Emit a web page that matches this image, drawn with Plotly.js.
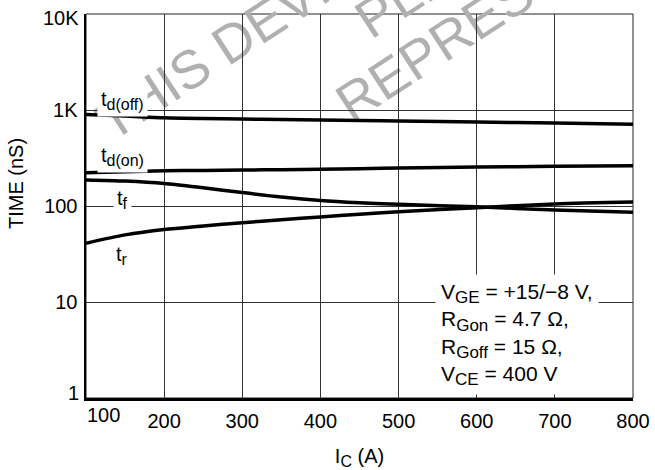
<!DOCTYPE html>
<html>
<head>
<meta charset="utf-8">
<script src="https://cdn.plot.ly/plotly-3.0.1.min.js"></script>
<style>html,body{margin:0;padding:0;background:#fff;}#chart{width:655px;height:470px;}</style>
</head>
<body>
<div id="chart"></div>
<script>
// ---- data ----
const currentA = [100, 150, 200, 250, 300, 350, 400, 450, 500, 600, 700, 800];
const tdOff    = [900, 866, 830, 815, 806, 796, 787, 777, 768, 750, 732, 710];
const tdOn     = [222, 228, 233, 235, 237, 239, 241, 245, 249, 255, 259, 263];
const tFall    = [187, 182, 172, 155, 138, 124, 114, 108, 104,  98,  91,  86];
const tRise    = [ 41,  50,  57,  62,  67,  72,  77,  82,  87,  96, 105, 110];
const seriesMain = ['t', 't', 't', 't'];
const seriesSub  = ['d(off)', 'd(on)', 'f', 'r'];
const xTickVals = [100, 200, 300, 400, 500, 600, 700, 800];
const xTickText = ['100', '200', '300', '400', '500', '600', '700', '800'];
const yTickVals = [1, 10, 100, 1000, 10000];
const yTickText = ['1', '10', '100', '1K', '10K'];
const condMain = ['V', 'R', 'R', 'V'];
const condSub  = ['GE', 'Gon', 'Goff', 'CE'];
const condRest = [' = +15/\u22128 V,', ' = 4.7 \u03A9,', ' = 15 \u03A9,', ' = 400 V'];
const watermark = ['THIS DEVICE', 'PLEASE', 'REPRESENTATIVE'];

// ---- geometry helpers (pixel -> paper) ----
const L = 86, R = 22, T = 14, B = 72, W = 655, H = 470;
const PW = W - L - R, PH = H - T - B;
const px = x => (x - L) / PW;
const py = y => (H - B - y) / PH;
const FONT = 'Liberation Sans, Arial, Helvetica, sans-serif';
const sub = (s, size) => '<sub><span style="font-size:' + size + 'px">' + s + '</span></sub>';

const ys = [tdOff, tdOn, tFall, tRise];
const traces = ys.map((y, i) => ({
  x: currentA, y: y, type: 'scatter', mode: 'lines', name: seriesMain[i] + seriesSub[i],
  line: {color: '#000', width: 3.5, shape: 'spline', smoothing: 0.8},
  hoverinfo: 'skip', showlegend: false
}));

// watermark via shape labels (below traces), anchored at text start
const wmPos = [[99, 122], [358, 20], [338.6, 103.6]];
const shapes = [{
  type: 'rect', xref: 'paper', yref: 'paper', x0: 0, x1: 1, y0: 0, y1: 1,
  line: {color: '#222', width: 1}, fillcolor: 'rgba(0,0,0,0)', layer: 'below'
}];
watermark.forEach((t, i) => {
  const cx = px(wmPos[i][0]), cy = py(wmPos[i][1]);
  shapes.push({
    type: 'rect', xref: 'paper', yref: 'paper', x0: cx - 0.0005, x1: cx + 0.0005, y0: cy - 0.0005, y1: cy + 0.0005,
    line: {width: 0}, fillcolor: 'rgba(0,0,0,0)', layer: 'below',
    label: {text: t, textangle: -33, textposition: 'middle center', xanchor: 'left', yanchor: 'middle',
            padding: 0, font: {size: 54, color: '#b0b0b0', family: FONT}}
  });
});

const labPos = [[122, 100], [122, 156], [122, 199], [122, 255]];
const annotations = [];
seriesMain.forEach((n, i) => {
  annotations.push({
    xref: 'paper', yref: 'paper', x: px(labPos[i][0]), y: py(labPos[i][1]),
    xanchor: 'center', yanchor: 'middle', text: n + sub(seriesSub[i], 16), showarrow: false,
    bgcolor: '#fff', borderpad: 3, font: {size: 20, color: '#000', family: FONT}
  });
});
// edge tick labels
annotations.push({xref: 'paper', yref: 'paper', x: px(85), y: py(415), xanchor: 'left', yanchor: 'middle',
  text: xTickText[0], showarrow: false, font: {size: 20, color: '#000', family: FONT}});
annotations.push({xref: 'paper', yref: 'paper', x: px(81), y: py(392.5), xanchor: 'right', yanchor: 'middle',
  text: yTickText[0], showarrow: false, font: {size: 20, color: '#000', family: FONT}});
annotations.push({xref: 'paper', yref: 'paper', x: px(81), y: py(18), xanchor: 'right', yanchor: 'middle',
  text: yTickText[4], showarrow: false, font: {size: 20, color: '#000', family: FONT}});
// y axis title
annotations.push({xref: 'paper', yref: 'paper', x: px(16), y: py(184), xanchor: 'center', yanchor: 'middle',
  text: 'TIME (nS)', textangle: -90, showarrow: false, font: {size: 20, color: '#000', family: FONT}});
// conditions box
const condText = condMain.map((m, i) => m + sub(condSub[i], 17) + condRest[i]).join('<br>');
annotations.push({xref: 'paper', yref: 'paper', x: px(435), y: py(274), xanchor: 'left', yanchor: 'top',
  text: condText, align: 'left', showarrow: false, bgcolor: '#fff', borderpad: 5,
  font: {size: 21, color: '#000', family: FONT}});

const layout = {
  width: W, height: H,
  margin: {l: L, r: R, t: T, b: B, pad: 0},
  paper_bgcolor: '#fff', plot_bgcolor: 'rgba(0,0,0,0)',
  font: {family: FONT, color: '#000', size: 20},
  showlegend: false,
  xaxis: {
    range: [100, 800], tickvals: xTickVals.slice(1), ticktext: xTickText.slice(1),
    showline: true, linecolor: '#000', linewidth: 2.5, ticks: '', showgrid: true,
    gridcolor: '#333', gridwidth: 1, zeroline: false, tickfont: {size: 20}, ticklabelstandoff: 3,
    title: {text: 'I' + sub('C', 16) + ' (A)', font: {size: 20}, standoff: 20}
  },
  yaxis: {
    type: 'log', range: [0, 4], tickvals: yTickVals.slice(1, 4), ticktext: yTickText.slice(1, 4),
    showline: true, linecolor: '#000', linewidth: 2.5, ticks: '', showgrid: true,
    gridcolor: '#333', gridwidth: 1, zeroline: false, tickfont: {size: 20}, ticklabelstandoff: 2
  },
  shapes: shapes,
  annotations: annotations
};

Plotly.newPlot('chart', traces, layout, {staticPlot: true, displayModeBar: false});
</script>
</body>
</html>
